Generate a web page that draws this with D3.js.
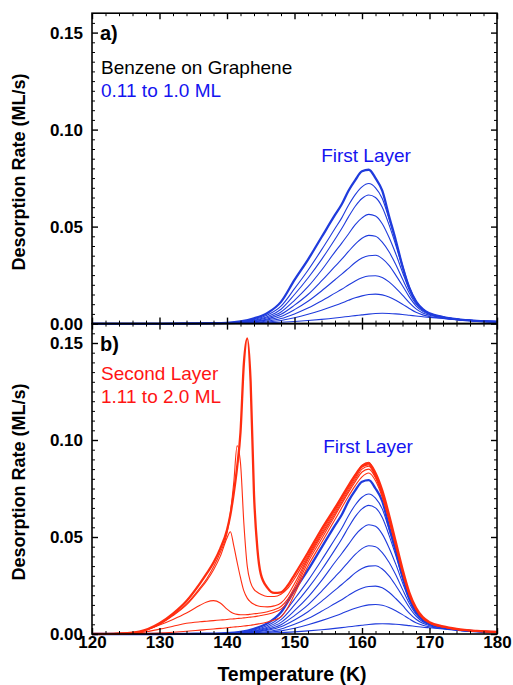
<!DOCTYPE html>
<html>
<head>
<meta charset="utf-8">
<script src="https://cdn.jsdelivr.net/npm/d3@7"></script>
<style>
  body { margin: 0; background: #fff; }
  svg { display: block; }
  text { font-family: "Liberation Sans", Arial, Helvetica, sans-serif; }
</style>
</head>
<body>
<svg id="svg" width="513" height="685"></svg>
<script>
// ---- data ----
// first layer, 0.11 to 1.0 ML
const tempsA = [120,125,130,134,138,140,142,144,146,148,150,152,154,156,157,158,159,160,161,162,163,164,165,166,167,168,169,170,172,174,177,180];
const b011 = [0,0,0,0,0,0,0.0001,0.0002,0.0004,0.0007,0.0011,0.0016,0.0022,0.0029,0.0033,0.0037,0.0041,0.0045,0.0049,0.0052,0.0053,0.0052,0.0050,0.0047,0.0043,0.0039,0.0035,0.0032,0.0026,0.0020,0.0014,0.0010];
const b022 = [0,0,0,0,0,0.0001,0.0002,0.0004,0.0008,0.0016,0.0030,0.0048,0.0069,0.0093,0.0106,0.0120,0.0133,0.0143,0.0150,0.0152,0.0148,0.0137,0.0120,0.0100,0.0078,0.0058,0.0045,0.0037,0.0028,0.0020,0.0013,0.0009];
const b033 = [0,0,0,0,0.0001,0.0001,0.0003,0.0006,0.0013,0.0026,0.0050,0.0080,0.0117,0.0157,0.0177,0.0199,0.0220,0.0236,0.0245,0.0247,0.0238,0.0215,0.0183,0.0147,0.0108,0.0076,0.0055,0.0043,0.0031,0.0021,0.0013,0.0009];
const b044 = [0,0,0,0,0.0001,0.0002,0.0004,0.0009,0.0019,0.0037,0.0072,0.0115,0.0168,0.0226,0.0255,0.0285,0.0315,0.0338,0.0350,0.0352,0.0335,0.0300,0.0250,0.0195,0.0138,0.0092,0.0063,0.0048,0.0033,0.0022,0.0014,0.0010];
const b056 = [0,0,0,0,0.0001,0.0002,0.0005,0.0011,0.0024,0.0048,0.0095,0.0150,0.0220,0.0295,0.0332,0.0372,0.0410,0.0440,0.0455,0.0450,0.0420,0.0370,0.0305,0.0230,0.0158,0.0102,0.0068,0.0050,0.0033,0.0022,0.0014,0.0010];
const b067 = [0,0,0,0,0.0001,0.0003,0.0006,0.0014,0.0030,0.0060,0.0120,0.0190,0.0275,0.0370,0.0415,0.0462,0.0510,0.0545,0.0563,0.0555,0.0515,0.0445,0.0360,0.0265,0.0175,0.0110,0.0072,0.0051,0.0034,0.0023,0.0014,0.0010];
const b078 = [0,0,0,0.0001,0.0002,0.0003,0.0007,0.0017,0.0036,0.0074,0.0150,0.0235,0.0330,0.0435,0.0490,0.0550,0.0605,0.0645,0.0663,0.0650,0.0600,0.0510,0.0405,0.0290,0.0185,0.0115,0.0075,0.0052,0.0034,0.0023,0.0014,0.0010];
const b089 = [0,0,0,0.0001,0.0002,0.0004,0.0009,0.0021,0.0044,0.0090,0.0180,0.0275,0.0380,0.0490,0.0545,0.0610,0.0665,0.0705,0.0722,0.0700,0.0645,0.0540,0.0425,0.0300,0.0190,0.0115,0.0075,0.0053,0.0034,0.0023,0.0014,0.0010];
const b100 = [0,0,0,0.0001,0.0002,0.0004,0.0011,0.0027,0.0055,0.0112,0.0225,0.0330,0.0445,0.0560,0.0615,0.0685,0.0740,0.0785,0.0793,0.0750,0.0685,0.0555,0.0430,0.0295,0.0185,0.0115,0.0075,0.0053,0.0034,0.0023,0.0014,0.0010];

// second layer, 1.11 to 2.0 ML
const tempsB = [120,124,127,130,132,134,136,137,138,139,140,140.5,141,141.5,142,142.5,143,143.5,144,144.5,145,146,147,148,149,150,152,154,156,158,159,160,161,162,163,164,165,166,167,168,169,170,172,174,177,180];
const r111 = [0,0,0.0002,0.0005,0.0009,0.0014,0.0020,0.0023,0.0026,0.0029,0.0032,0.0034,0.0036,0.0037,0.0039,0.0041,0.0043,0.0045,0.0048,0.0051,0.0054,0.0062,0.0072,0.0088,0.0135,0.0205,0.0350,0.0470,0.0590,0.0710,0.0765,0.0810,0.0830,0.0790,0.0705,0.0585,0.0450,0.0315,0.0200,0.0125,0.0080,0.0056,0.0036,0.0024,0.0015,0.0011];
const r122 = [0,0.0001,0.0006,0.0025,0.0040,0.0055,0.0063,0.0066,0.0069,0.0072,0.0075,0.0077,0.0078,0.0080,0.0081,0.0083,0.0085,0.0087,0.0089,0.0092,0.0095,0.0102,0.0112,0.0128,0.0165,0.0225,0.0370,0.0490,0.0610,0.0730,0.0785,0.0835,0.0850,0.0805,0.0715,0.0590,0.0455,0.0318,0.0202,0.0126,0.0081,0.0057,0.0036,0.0024,0.0015,0.0011];
const r133 = [0,0.0003,0.0012,0.0046,0.0075,0.0108,0.0148,0.0165,0.0172,0.0160,0.0128,0.0115,0.0106,0.0101,0.0099,0.0099,0.0100,0.0102,0.0104,0.0106,0.0108,0.0115,0.0125,0.0142,0.0180,0.0240,0.0385,0.0505,0.0620,0.0740,0.0795,0.0850,0.0865,0.0810,0.0720,0.0595,0.0460,0.0322,0.0205,0.0128,0.0082,0.0058,0.0037,0.0025,0.0016,0.0011];
const r156 = [0,0.0003,0.0011,0.0050,0.0095,0.0150,0.0230,0.0275,0.0330,0.0400,0.0495,0.0527,0.0455,0.0370,0.0290,0.0222,0.0185,0.0165,0.0153,0.0146,0.0142,0.0140,0.0145,0.0160,0.0200,0.0260,0.0395,0.0515,0.0630,0.0750,0.0805,0.0860,0.0872,0.0815,0.0725,0.0600,0.0462,0.0324,0.0207,0.0129,0.0083,0.0058,0.0037,0.0025,0.0016,0.0011];
const r178 = [0,0.0003,0.0012,0.0051,0.0098,0.0155,0.0238,0.0285,0.0345,0.0420,0.0520,0.0625,0.0780,0.0970,0.0880,0.0570,0.0350,0.0265,0.0230,0.0215,0.0205,0.0193,0.0193,0.0205,0.0235,0.0285,0.0405,0.0525,0.0640,0.0760,0.0815,0.0870,0.0885,0.0820,0.0730,0.0605,0.0466,0.0326,0.0208,0.0130,0.0084,0.0059,0.0038,0.0025,0.0016,0.0011];
const r200 = [0,0.0002,0.0012,0.0055,0.0105,0.0170,0.0261,0.0312,0.0368,0.0440,0.0536,0.0615,0.0725,0.0860,0.1040,0.1395,0.1524,0.1300,0.0720,0.0440,0.0310,0.0238,0.0212,0.0215,0.0250,0.0305,0.0420,0.0540,0.0650,0.0765,0.0820,0.0865,0.0880,0.0830,0.0740,0.0615,0.0475,0.0335,0.0215,0.0135,0.0087,0.0061,0.0039,0.0026,0.0016,0.0011];

const firstLayer = [b011, b022, b033, b044, b056, b067, b078, b089, b100];
const secondLayer = [r111, r122, r133, r156, r178, r200];

const xTicksMajor = [120, 130, 140, 150, 160, 170, 180];
const xTicksMinor = d3.range(122, 180, 2).filter(t => t % 10 !== 0);
const yTicksMajor = [0, 0.05, 0.10, 0.15];
const yTicksMinor = d3.range(1, 32).filter(k => k % 10 !== 0).map(k => k * 0.005);

// ---- layout ----
const config = {
  left: 92, right: 497,
  panelA: [13.2, 323.6],
  panelB: [323.6, 634],
  blue: '#1f3bdc', blueText: '#1414f0',
  red: '#ff2d10', redText: '#ff1414'
};

const svg = d3.select('#svg');
const xScale = d3.scaleLinear().domain([120, 180]).range([config.left, config.right]);
const yA = d3.scaleLinear().domain([0, 0.16]).range([config.panelA[1], config.panelA[0]]);
const yB = d3.scaleLinear().domain([0, 0.16]).range([config.panelB[1], config.panelB[0]]);

function drawCurves(y, temps, series, colour, thickIdx) {
  const line = d3.line()
    .x((d, i) => xScale(temps[i]))
    .y(d => y(d))
    .curve(d3.curveMonotoneX);
  svg.append('g').selectAll('path')
    .data(series)
    .join('path')
    .attr('d', line)
    .attr('fill', 'none')
    .attr('stroke', colour)
    .attr('stroke-width', (d, i) => i === thickIdx ? 2.3 : 1.1)
    .attr('stroke-linejoin', 'round');
}

function styleAxis(g, labels) {
  g.select('path.domain').remove();
  g.attr('font-family', null).attr('font-size', null);
  g.selectAll('line').attr('stroke', '#000');
  if (labels) {
    g.selectAll('text')
      .attr('fill', '#000')
      .style('font-size', '17px')
      .style('font-weight', 'bold');
  } else {
    g.selectAll('text').remove();
  }
}

function drawFrame(y, bottomLabels) {
  const top = y.range()[1], bottom = y.range()[0];
  const g = svg.append('g');

  // left
  g.append('g').attr('transform', `translate(${config.left},0)`)
    .call(d3.axisLeft(y).tickValues(yTicksMajor).tickSize(-6).tickPadding(9).tickFormat(d3.format('.2f')))
    .call(a => styleAxis(a, true))
    .selectAll('line').attr('stroke-width', 1.4);
  g.append('g').attr('transform', `translate(${config.left},0)`)
    .call(d3.axisLeft(y).tickValues(yTicksMinor).tickSize(-3))
    .call(a => styleAxis(a, false));

  // right
  g.append('g').attr('transform', `translate(${config.right},0)`)
    .call(d3.axisRight(y).tickValues(yTicksMajor).tickSize(-6))
    .call(a => styleAxis(a, false))
    .selectAll('line').attr('stroke-width', 1.4);
  g.append('g').attr('transform', `translate(${config.right},0)`)
    .call(d3.axisRight(y).tickValues(yTicksMinor).tickSize(-3))
    .call(a => styleAxis(a, false));

  // top
  g.append('g').attr('transform', `translate(0,${top})`)
    .call(d3.axisTop(xScale).tickValues(xTicksMajor).tickSize(-6))
    .call(a => styleAxis(a, false))
    .selectAll('line').attr('stroke-width', 1.4);
  g.append('g').attr('transform', `translate(0,${top})`)
    .call(d3.axisTop(xScale).tickValues(xTicksMinor).tickSize(-3))
    .call(a => styleAxis(a, false));

  // bottom
  g.append('g').attr('transform', `translate(0,${bottom})`)
    .call(d3.axisBottom(xScale).tickValues(xTicksMajor).tickSize(-6).tickPadding(2).tickFormat(d3.format('d')))
    .call(a => styleAxis(a, bottomLabels))
    .selectAll('line').attr('stroke-width', 1.4);
  g.append('g').attr('transform', `translate(0,${bottom})`)
    .call(d3.axisBottom(xScale).tickValues(xTicksMinor).tickSize(-3))
    .call(a => styleAxis(a, false));

  g.append('rect')
    .attr('x', config.left).attr('y', top)
    .attr('width', config.right - config.left).attr('height', bottom - top)
    .attr('fill', 'none').attr('stroke', '#000').attr('stroke-width', 1.6);
}

// ---- panel a ----
drawCurves(yA, tempsA, firstLayer, config.blue, 8);
// ---- panel b ----
drawCurves(yB, tempsA, firstLayer, config.blue, 8);
drawCurves(yB, tempsB, secondLayer, config.red, 5);

drawFrame(yA, false);
drawFrame(yB, true);

// ---- text ----
function label(x, y, txt, opts) {
  svg.append('text')
    .attr('x', x).attr('y', y)
    .attr('text-anchor', opts.anchor || 'start')
    .attr('fill', opts.fill || '#000')
    .style('font-size', opts.size + 'px')
    .style('font-weight', opts.bold ? 'bold' : 'normal')
    .text(txt);
}

label(100, 40, 'a)', { size: 20, bold: true });
label(101, 74, 'Benzene on Graphene', { size: 19 });
label(101, 97, '0.11 to 1.0 ML', { size: 19, fill: config.blueText });
label(366, 162, 'First Layer', { size: 19, fill: config.blueText, anchor: 'middle' });

label(100, 351, 'b)', { size: 20, bold: true });
label(101, 380, 'Second Layer', { size: 19, fill: config.redText });
label(101, 403, '1.11 to 2.0 ML', { size: 19, fill: config.redText });
label(368, 453, 'First Layer', { size: 19, fill: config.blueText, anchor: 'middle' });

[172, 482].forEach(cy => {
  svg.append('text')
    .attr('transform', `translate(25,${cy}) rotate(-90)`)
    .attr('text-anchor', 'middle')
    .style('font-size', '18px')
    .style('font-weight', 'bold')
    .text('Desorption Rate (ML/s)');
});

label(292, 681, 'Temperature (K)', { size: 19.5, bold: true, anchor: 'middle' });
</script>
</body>
</html>
